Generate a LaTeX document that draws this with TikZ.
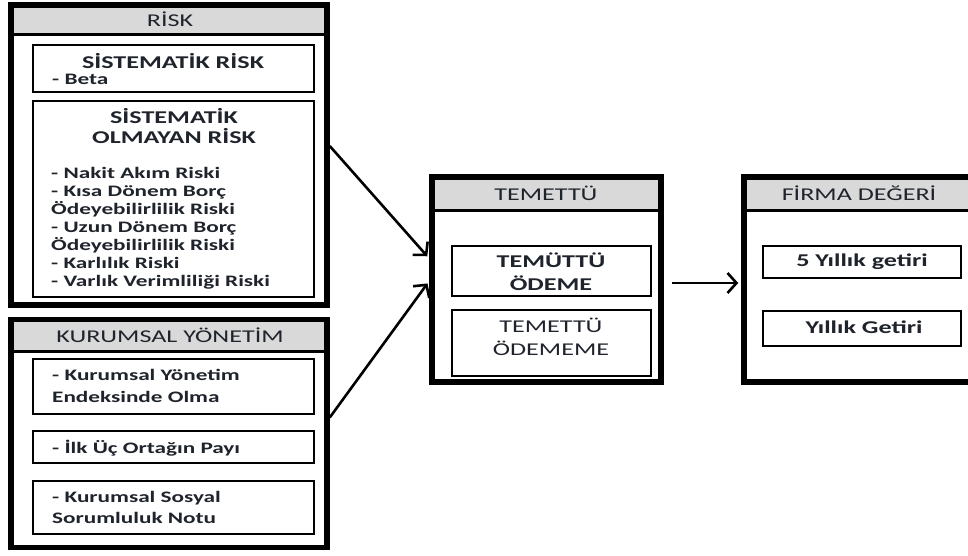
\documentclass[tikz,border=0pt]{standalone}
\usepackage{fontspec}
\setmainfont{Carlito}[FakeStretch=1.45]
\usetikzlibrary{arrows.meta,backgrounds}
\definecolor{hdr}{HTML}{D9D9D9}
\definecolor{txt}{HTML}{1F232B}
\tikzset{
 outerbox/.style={draw=black, line width=5.5pt, inner sep=0pt},
 innerbox/.style={draw=black, line width=2.6pt, inner sep=0pt},
 sepline/.style={line width=3pt},
 hdrtext/.style={font=\fontsize{18}{21}\selectfont, text=txt, inner sep=0pt},
 ttl/.style={font=\bfseries\fontsize{18}{20}\selectfont, text=txt, inner sep=0pt, align=center},
 body/.style={font=\bfseries\fontsize{16}{18}\selectfont, text=txt, inner sep=0pt, anchor=base west},
 arr/.style={line width=2.6pt, -{Straight Barb[length=9pt,width=20pt]}},
}
\begin{document}
\begin{tikzpicture}[x=1pt,y=-1pt]
\useasboundingbox (0,0) rectangle (968,555);
\clip (0,0) rectangle (968,555);
% outer boxes
\node[outerbox, minimum width=316pt, minimum height=300pt] (risk) at (169,155) {};
\node[outerbox, minimum width=316pt, minimum height=228pt] (kur) at (169,433.5) {};
\node[outerbox, minimum width=229pt, minimum height=205pt] (tem) at (546.5,279.5) {};
\node[outerbox, minimum width=246pt, minimum height=205pt] (firma) at (867,279.5) {};
\begin{scope}[on background layer]
\fill[hdr] (risk.north west) rectangle (risk.east |- 0,34);
\fill[hdr] (kur.north west) rectangle (kur.east |- 0,351);
\fill[hdr] (tem.north west) rectangle (tem.east |- 0,210);
\fill[hdr] (firma.north west) rectangle (firma.east |- 0,210);
\end{scope}
\draw[sepline] (risk.west |- 0,34) -- (risk.east |- 0,34);
\draw[sepline] (kur.west |- 0,351) -- (kur.east |- 0,351);
\draw[sepline] (tem.west |- 0,210) -- (tem.east |- 0,210);
\draw[sepline] (firma.west |- 0,210) -- (firma.east |- 0,210);
% headers
\node[hdrtext] (riskh) at (170,19) {RİSK};
\node[hdrtext] (kurh) at (170,335) {KURUMSAL YÖNETİM};
\node[hdrtext] (temh) at (546,193) {TEMETTÜ};
\node[hdrtext] (firmah) at (859,193) {FİRMA DEĞERİ};
% risk inner boxes
\node[innerbox, minimum width=281pt, minimum height=47pt] (r1) at (173.5,68.5) {};
\node[ttl] (r1t) at (173,61) {SİSTEMATİK RİSK};
\node[body] (r1b) at (52,84) {- Beta};
\node[innerbox, minimum width=281pt, minimum height=196pt] (r2) at (173.5,199) {};
\node[ttl] (r2t) at (174,126) {SİSTEMATİK\\OLMAYAN RİSK};
\foreach \t [count=\i] in {- Nakit Akım Riski, - Kısa Dönem Borç, Ödeyebilirlilik Riski, - Uzun Dönem Borç, Ödeyebilirlilik Riski, - Karlılık Riski, - Varlık Verimliliği Riski}
  \node[body, name=r2l\i] at (51,{178+18*(\i-1)}) {\t};
% kurumsal inner boxes
\node[innerbox, minimum width=281pt, minimum height=55pt] (k1) at (173.5,386.5) {};
\node[body] (k1a) at (52,380) {- Kurumsal Yönetim};
\node[body] (k1b) at (52,402) {Endeksinde Olma};
\node[innerbox, minimum width=281pt, minimum height=32pt] (k2) at (173.5,447) {};
\node[body] (k2a) at (52,453) {- İlk Üç Ortağın Payı};
\node[innerbox, minimum width=281pt, minimum height=53pt] (k3) at (173.5,507.5) {};
\node[body] (k3a) at (52,502) {- Kurumsal Sosyal};
\node[body] (k3b) at (52,523) {Sorumluluk Notu};
% temettu inner boxes
\node[innerbox, minimum width=199pt, minimum height=50pt] (t1) at (551.5,271) {};
\node[ttl, font=\bfseries\fontsize{18}{23}\selectfont] (t1t) at (551,271.5) {TEMÜTTÜ\\ÖDEME};
\node[innerbox, minimum width=199pt, minimum height=66pt] (t2) at (551.5,343) {};
\node[ttl, font=\fontsize{18}{23}\selectfont] (t2t) at (551,336.5) {TEMETTÜ\\ÖDEMEME};
% firma inner boxes
\node[innerbox, minimum width=198pt, minimum height=32pt] (f1) at (862,262) {};
\node[ttl] (f1t) at (862,262) {5 Yıllık getiri};
\node[innerbox, minimum width=198pt, minimum height=35pt] (f2) at (862,328.5) {};
\node[ttl] (f2t) at (864,327) {Yıllık Getiri};
% arrows
\draw[arr, shorten >=3pt] ([yshift=9pt]risk.east) -- ([yshift=21pt]tem.west);
\draw[arr, shorten >=3pt] ([yshift=16pt]kur.east) -- ([yshift=-1.5pt]tem.west);
\draw[arr, shorten <=8pt, shorten >=3pt] ([yshift=-3.5pt]tem.east) -- ([yshift=-3.5pt]firma.west);
\end{tikzpicture}
\end{document}
